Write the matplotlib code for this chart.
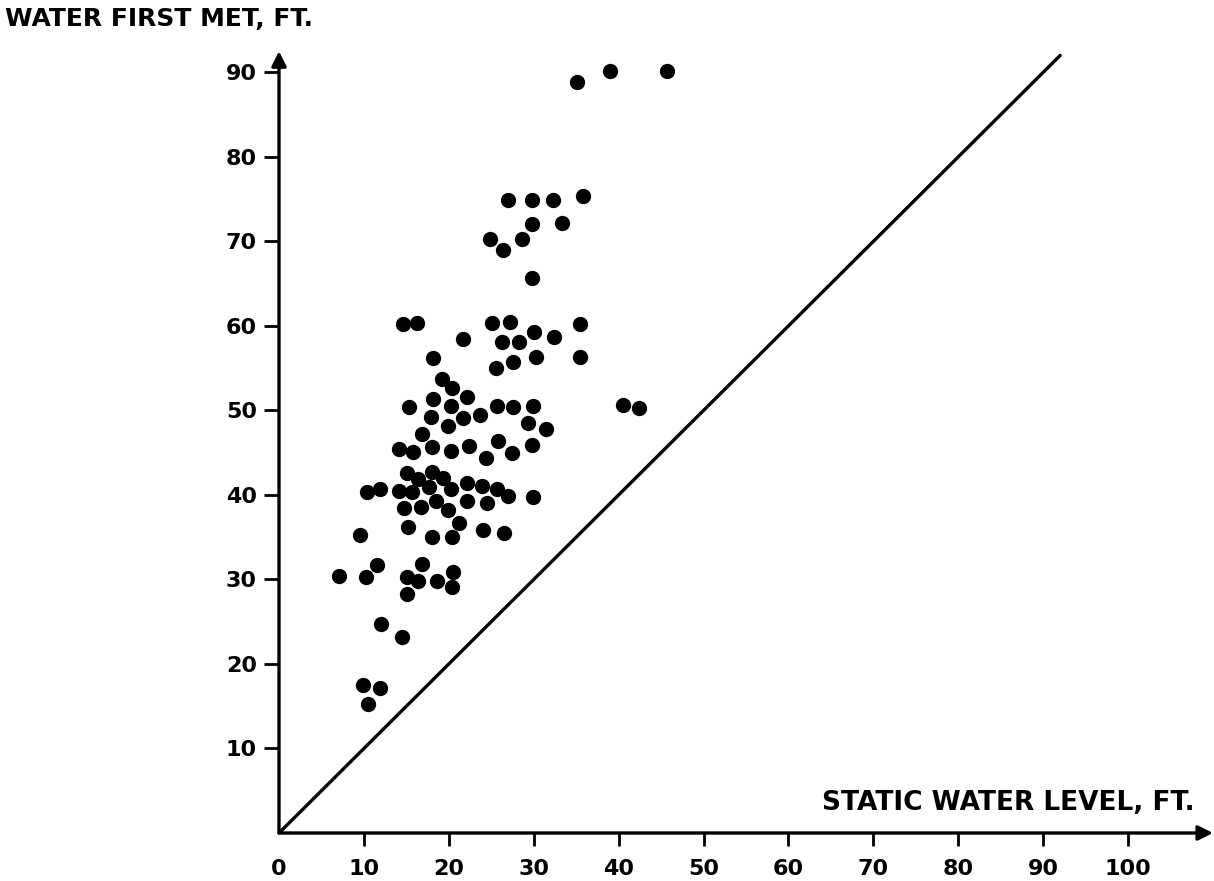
import numpy as np
import matplotlib
matplotlib.use("Agg")
import matplotlib.pyplot as plt

# Data (feet)

static_level = [
    35.1, 39.0, 45.7, 27.0, 29.8, 32.3, 35.8, 29.8, 33.3, 24.9,
    28.6, 26.4, 29.8, 14.6, 16.3, 25.1, 27.2, 30.0, 35.5, 21.7,
    26.3, 28.3, 32.4, 35.5, 18.1, 25.6, 27.6, 30.3, 19.2, 20.4,
    22.1, 15.3, 18.1, 20.3, 23.7, 25.7, 27.6, 29.9, 17.9, 21.7,
    19.9, 29.3, 31.4, 16.8, 14.1, 15.8, 18.0, 20.3, 22.4, 25.8,
    24.4, 27.4, 29.8, 15.1, 16.4, 18.0, 19.3, 22.1, 23.9, 25.7,
    27.0, 29.9, 10.4, 11.9, 14.1, 15.7, 17.7, 20.3, 14.7, 16.7,
    18.5, 19.9, 22.1, 24.5, 21.2, 15.2, 18.0, 20.4, 24.0, 26.5,
    9.5, 7.1, 10.2, 11.5, 16.8, 15.1, 16.4, 18.6, 20.5, 20.4,
    15.1, 12.0, 14.5, 9.9, 11.9, 10.5, 40.5, 42.4,
]
first_met = [
    88.9, 90.2, 90.2, 74.9, 74.9, 74.9, 75.4, 72.1, 72.2, 70.3,
    70.3, 69.0, 65.7, 60.2, 60.4, 60.4, 60.5, 59.3, 60.2, 58.5,
    58.1, 58.1, 58.7, 56.3, 56.2, 55.0, 55.7, 56.3, 53.7, 52.7,
    51.6, 50.4, 51.4, 50.5, 49.5, 50.5, 50.4, 50.5, 49.2, 49.1,
    48.2, 48.5, 47.8, 47.2, 45.4, 45.1, 45.7, 45.2, 45.8, 46.4,
    44.4, 45.0, 45.9, 42.6, 41.9, 42.7, 42.0, 41.4, 41.1, 40.7,
    39.9, 39.8, 40.4, 40.7, 40.5, 40.4, 40.9, 40.7, 38.5, 38.6,
    39.3, 38.2, 39.3, 39.0, 36.7, 36.2, 35.0, 35.0, 35.9, 35.5,
    35.3, 30.4, 30.3, 31.7, 31.8, 30.3, 29.8, 29.8, 30.9, 29.1,
    28.3, 24.7, 23.2, 17.5, 17.2, 15.3, 50.7, 50.3,
]

equal_line = [0, 92]
x_ticks = list(range(0, 101, 10))
y_ticks = list(range(10, 91, 10))

plt.rcParams['font.family'] = ['DejaVu Sans']

fig = plt.figure(figsize=(12.14, 8.81), dpi=100)
ax = fig.add_axes([279 / 1214, 48 / 881, 934 / 1214, 786 / 881])

ax.plot(static_level, first_met, 'o', color='black', markersize=10,
        clip_on=False)
ax.plot(equal_line, equal_line, color='black', linewidth=2.4,
        solid_capstyle='round')

ax.set_xlim(0, 110)
ax.set_ylim(0, 93)

for s in ax.spines.values():
    s.set_visible(False)

# axes drawn as arrows
ax.annotate('', xy=(110, 0), xytext=(0, 0),
            arrowprops=dict(arrowstyle='-|>', lw=2.4, color='black',
                            mutation_scale=22, shrinkA=0, shrinkB=0),
            annotation_clip=False)
ax.annotate('', xy=(0, 92.5), xytext=(0, 0),
            arrowprops=dict(arrowstyle='-|>', lw=2.4, color='black',
                            mutation_scale=22, shrinkA=0, shrinkB=0),
            annotation_clip=False)

ax.set_xticks(x_ticks)
ax.set_xticklabels([str(t) for t in x_ticks])
ax.set_yticks(y_ticks)
ax.set_yticklabels([str(t) for t in y_ticks])
ax.tick_params(axis='x', direction='out', length=9, width=2, pad=10,
               labelsize=16)
ax.tick_params(axis='y', direction='out', length=11, width=2, pad=5,
               labelsize=16)
ax.xaxis.get_major_ticks()[0].tick1line.set_visible(False)
for lab in ax.get_xticklabels() + ax.get_yticklabels():
    lab.set_fontweight('bold')

fig.text(5 / 1214, 1 - 19 / 881, 'WATER FIRST MET, FT.', fontsize=18,
         fontweight='bold', ha='left', va='center')
fig.text(1195 / 1214, 1 - 803 / 881, 'STATIC WATER LEVEL, FT.',
         fontsize=19, fontweight='bold', ha='right', va='center')

plt.savefig("out.png", dpi=100)
